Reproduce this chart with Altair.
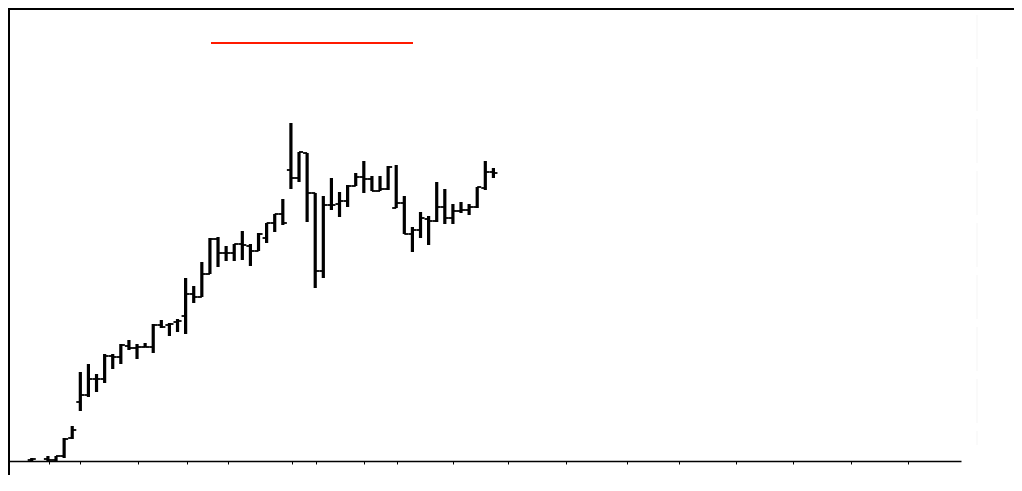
import altair as alt
import pandas as pd

# bar slot index (trading day position), one bar per slot
idx = [0, 2, 3, 4, 5, 6, 7, 8, 9, 10, 11, 12, 13, 14, 15, 16, 17, 18, 19, 20,
       21, 22, 23, 24, 25, 26, 27, 28, 29, 30, 31, 32, 33, 34, 35, 36, 37, 38, 39, 40,
       41, 42, 43, 44, 45, 46, 47, 48, 49, 50, 51, 52, 53, 54, 55, 56, 57]

high = [0.3, 0.5, 0.5, 2.3, 3.5, 8.9, 9.7, 8.7, 10.7, 10.7, 11.7, 12.1, 11.7, 11.8, 13.7, 14.1, 13.8, 14.2, 18.3, 17.5,
        19.9, 22.3, 22.4, 21.5, 21.7, 23.0, 21.7, 22.8, 23.8, 24.7, 26.2, 33.8, 30.9, 30.8, 26.8, 26.5, 28.3, 26.9, 27.6, 28.8,
        30.0, 28.5, 28.5, 29.5, 29.6, 26.5, 23.4, 24.9, 24.5, 27.9, 27.2, 25.7, 25.9, 25.7, 27.4, 30.0, 29.3]

low = [0.0, 0.0, 0.0, 0.3, 2.2, 5.0, 6.4, 6.9, 7.8, 9.2, 9.7, 11.1, 10.2, 11.4, 10.8, 13.3, 12.5, 12.9, 12.7, 15.8,
       16.4, 18.7, 19.4, 20.0, 20.0, 20.1, 19.5, 21.0, 21.8, 22.9, 23.6, 27.2, 27.9, 23.9, 17.3, 18.3, 25.1, 24.4, 25.4, 27.5,
       26.8, 27.0, 27.0, 27.1, 25.3, 22.7, 20.9, 22.3, 21.6, 23.9, 23.7, 23.7, 24.8, 24.6, 25.3, 27.1, 28.3]

open_ = [0.1, 0.2, 0.1, 0.5, 2.3, 5.9, 6.6, 8.2, 8.2, 10.5, 10.4, 11.5, 11.3, 11.4, 11.4, 13.6, 13.6, 13.9, 14.5, 16.7,
         16.4, 18.7, 22.2, 20.8, 20.8, 21.7, 21.5, 21.0, 22.3, 23.8, 24.7, 29.1, 28.3, 30.8, 26.8, 19.0, 25.6, 25.7, 26.0, 27.5,
         28.4, 28.2, 27.0, 27.2, 25.3, 25.8, 22.7, 23.1, 24.2, 24.0, 25.4, 24.3, 25.0, 25.1, 25.4, 27.3, 28.9]

close = [0.2, 0.1, 0.5, 2.2, 3.1, 6.6, 8.2, 8.2, 10.5, 10.4, 11.6, 11.3, 11.4, 11.4, 13.6, 13.4, 13.7, 14.0, 16.7, 16.4,
         18.7, 22.2, 20.8, 20.8, 21.7, 21.6, 21.0, 22.7, 23.8, 24.7, 23.8, 28.3, 30.9, 26.8, 19.0, 25.6, 25.6, 26.0, 27.5, 28.4,
         28.2, 27.0, 27.2, 29.4, 25.8, 22.7, 23.1, 24.3, 24.0, 25.4, 24.3, 25.0, 25.1, 25.4, 27.4, 28.9, 28.8]

tick_positions = [2.1, 6.0, 13.1, 19.2, 24.2, 32.1, 35.1, 41.0, 45.1, 52.0, 58.8, 66.0,
                  73.5, 79.9, 86.9, 94.0, 101.2, 108.2]

df = pd.DataFrame({"i": idx, "high": high, "low": low, "open": open_, "close": close})

W, H = 953, 453
xs = alt.Scale(domain=[-2.93, 114.73], nice=False, zero=False)
ys = alt.Scale(domain=[0, 45.3], nice=False, zero=False)

xaxis = alt.Axis(values=tick_positions, labels=False, grid=False, title=None,
                 domainColor="black", domainWidth=1.5, tickColor="black",
                 tickSize=3, tickWidth=1)

base = alt.Chart(df)

hl = base.mark_rule(color="black", strokeWidth=3.2).encode(
    x=alt.X("i:Q", scale=xs, axis=xaxis),
    y=alt.Y("low:Q", scale=ys, axis=None),
    y2="high:Q",
)

op = base.transform_calculate(xl="datum.i - 0.5").mark_rule(color="black", strokeWidth=1.8).encode(
    x=alt.X("xl:Q", scale=xs),
    x2="i:Q",
    y=alt.Y("open:Q", scale=ys),
)

cl = base.transform_calculate(xr="datum.i + 0.5").mark_rule(color="black", strokeWidth=1.8).encode(
    x=alt.X("i:Q", scale=xs),
    x2="xr:Q",
    y=alt.Y("close:Q", scale=ys),
)

deco = alt.Chart(pd.DataFrame({"k": [0]}))

top_border = deco.mark_rule(color="black", strokeWidth=2).encode(
    x=alt.value(0), x2=alt.value(1006), y=alt.value(1))
left_border = deco.mark_rule(color="black", strokeWidth=2).encode(
    x=alt.value(1), y=alt.value(0), y2=alt.value(471))
red_line = deco.mark_rule(color="#ff1a00", strokeWidth=2).encode(
    x=alt.value(203), x2=alt.value(405), y=alt.value(35))
faint_line = deco.mark_rule(color="#f5f5f5", strokeWidth=1, strokeDash=[44, 8]).encode(
    x=alt.value(969), y=alt.value(7), y2=alt.value(437))

chart = alt.layer(faint_line, hl, op, cl, red_line, top_border, left_border).properties(
    width=W, height=H,
    autosize=alt.AutoSizeParams(type="none"),
    padding={"left": 0, "top": 0, "right": 53, "bottom": 14},
    background="white",
).configure_view(stroke=None)

chart.save("out.html", embed_options={"renderer": "svg", "actions": False})
